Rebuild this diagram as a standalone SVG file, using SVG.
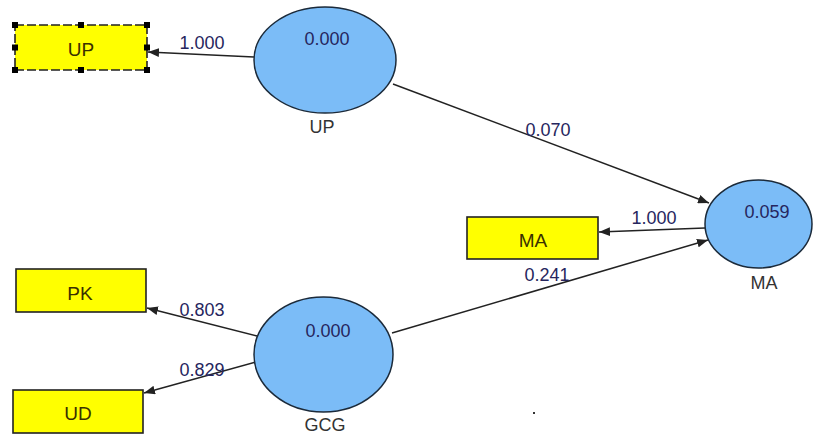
<svg xmlns="http://www.w3.org/2000/svg" width="814" height="437" viewBox="0 0 814 437">
<style>
.box{fill:#ffff00;stroke:#222;stroke-width:1.6}
.lv{fill:#7bbcf7;stroke:#1b2a3a;stroke-width:1.5}
.edge{stroke:#222;stroke-width:1.5;fill:none;marker-end:url(#ah)}
text{font-family:"Liberation Sans",Arial,sans-serif;font-size:18px;text-anchor:middle}
.num{fill:#26265e}
.lbl{fill:#333}
.bl{fill:#3a3000;font-size:19px}
.h{fill:#000}
</style>
<defs>
<marker id="ah" viewBox="0 0 10 8" refX="10" refY="4" markerWidth="11" markerHeight="9" markerUnits="userSpaceOnUse" orient="auto">
<path d="M0,0 L10,4 L0,8 Z" fill="#222"/>
</marker>
</defs>
<rect width="814" height="437" fill="#fff"/>
<g id="connectors">
<line class="edge" x1="254" y1="57" x2="148" y2="52"/>
<line class="edge" x1="393" y1="84" x2="709" y2="203"/>
<line class="edge" x1="705" y1="228" x2="599" y2="232"/>
<line class="edge" x1="392" y1="333" x2="708" y2="240"/>
<line class="edge" x1="257" y1="336" x2="147" y2="308"/>
<line class="edge" x1="256" y1="362" x2="144" y2="393"/>
<text class="num" x="202" y="49">1.000</text>
<text class="num" x="548" y="136">0.070</text>
<text class="num" x="654" y="224">1.000</text>
<text class="num" x="547" y="281">0.241</text>
<text class="num" x="202" y="316">0.803</text>
<text class="num" x="202" y="376">0.829</text>
</g>
<g id="node-UP-ind">
<rect class="box" x="15" y="25" width="132" height="45" stroke-dasharray="9,3" stroke-width="2.2"/>
<rect class="h" x="12" y="22" width="6" height="6"/>
<rect class="h" x="78" y="22" width="6" height="6"/>
<rect class="h" x="144" y="22" width="6" height="6"/>
<rect class="h" x="12" y="44.5" width="6" height="6"/>
<rect class="h" x="144" y="44.5" width="6" height="6"/>
<rect class="h" x="12" y="67" width="6" height="6"/>
<rect class="h" x="78" y="67" width="6" height="6"/>
<rect class="h" x="144" y="67" width="6" height="6"/>
<text class="bl" x="81" y="56">UP</text>
</g>
<g id="node-MA-ind">
<rect class="box" x="467" y="217" width="131" height="42"/>
<text class="bl" x="533" y="247">MA</text>
</g>
<g id="node-PK">
<rect class="box" x="16" y="269" width="130" height="43"/>
<text class="bl" x="80" y="300">PK</text>
</g>
<g id="node-UD">
<rect class="box" x="13" y="390" width="130" height="43"/>
<text class="bl" x="78" y="420">UD</text>
</g>
<g id="node-UP">
<ellipse class="lv" cx="325" cy="60" rx="71" ry="53"/>
<text class="num" x="327" y="45">0.000</text>
<text class="lbl" x="322" y="133">UP</text>
</g>
<g id="node-MA">
<ellipse class="lv" cx="758.5" cy="224" rx="53.5" ry="44"/>
<text class="num" x="767" y="218">0.059</text>
<text class="lbl" x="764" y="289">MA</text>
</g>
<g id="node-GCG">
<ellipse class="lv" cx="323.5" cy="354.5" rx="69.5" ry="57.5"/>
<text class="num" x="328" y="337">0.000</text>
<text class="lbl" x="325" y="431">GCG</text>
</g>
<rect x="533" y="412" width="2" height="2" fill="#333"/>
</svg>
